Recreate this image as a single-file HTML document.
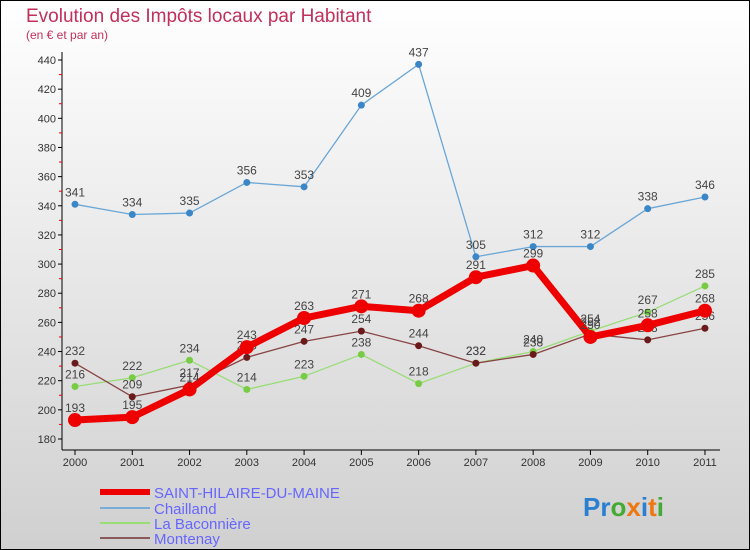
<!DOCTYPE html>
<html><head><meta charset="utf-8"><style>
body{margin:0;width:750px;height:550px;overflow:hidden}
svg{display:block;font-family:"Liberation Sans",sans-serif}
</style></head><body>
<svg width="750" height="550">
<defs><linearGradient id="bg" x1="0" y1="0" x2="0" y2="1"><stop offset="0" stop-color="#ffffff"/><stop offset="1" stop-color="#d0d0d0"/></linearGradient></defs>
<rect x="0.5" y="0.5" width="749" height="549" fill="url(#bg)" stroke="#000"/>
<text x="26" y="22" font-size="19" fill="#c0305a">Evolution des Impôts locaux par Habitant</text>
<text x="26" y="39" font-size="12" fill="#c0305a">(en € et par an)</text>
<g id="axes"></g><g id="series"></g>
<g>
<line x1="100" y1="492" x2="150" y2="492" stroke="#e00" stroke-width="6"/>
<text x="154" y="498" font-size="15" fill="#6666ff">SAINT-HILAIRE-DU-MAINE</text>
<line x1="100" y1="508" x2="150" y2="508" stroke="#7aaed6" stroke-width="2"/>
<text x="154" y="514" font-size="15" fill="#6666ff">Chailland</text>
<line x1="100" y1="523" x2="150" y2="523" stroke="#99dd77" stroke-width="2"/>
<text x="154" y="529" font-size="15" fill="#6666ff">La Baconnière</text>
<line x1="100" y1="538" x2="150" y2="538" stroke="#8a5a5a" stroke-width="2"/>
<text x="154" y="544" font-size="15" fill="#6666ff">Montenay</text>
</g>
<text x="583" y="516" font-size="26" font-weight="bold"><tspan fill="#2a7fd0">Pr</tspan><tspan fill="#44aa33">o</tspan><tspan fill="#ee7711">x</tspan><tspan fill="#2a7fd0">i</tspan><tspan fill="#ee7711">t</tspan><tspan fill="#44aa33">i</tspan></text>
</svg>
<script>
const years=["2000","2001","2002","2003","2004","2005","2006","2007","2008","2009","2010","2011"];
const yTicks=[180,200,220,240,260,280,300,320,340,360,380,400,420,440];
const saintHilaire=[193,195,214,243,263,271,268,291,299,250,258,268];
const chailland=[341,334,335,356,353,409,437,305,312,312,338,346];
const baconniere=[216,222,234,214,223,238,218,232,240,254,267,285];
const montenay=[232,209,217,236,247,254,244,232,238,252,248,256];
const NS="http://www.w3.org/2000/svg";
const X=i=>75+i*57.27, Y=v=>439-(v-180)*1.4577;
function mk(t,a,p){const e=document.createElementNS(NS,t);for(const k in a)e.setAttribute(k,a[k]);p.appendChild(e);return e;}
const ax=document.getElementById('axes');
mk('line',{x1:62,y1:52,x2:62,y2:450,stroke:'#000'},ax);
mk('line',{x1:62,y1:450,x2:720,y2:450,stroke:'#000'},ax);
yTicks.forEach(v=>{
  mk('line',{x1:58,y1:Y(v),x2:62,y2:Y(v),stroke:'#000'},ax);
  if(v<440) mk('line',{x1:59,y1:Y(v+10),x2:62,y2:Y(v+10),stroke:'#e00'},ax);
  const t=mk('text',{x:56,y:Y(v)+4,'font-size':11,fill:'#333','text-anchor':'end'},ax);
  
  
  t.textContent=v;
});
years.forEach((y,i)=>{
  mk('line',{x1:X(i),y1:450,x2:X(i),y2:455,stroke:'#000'},ax);
  const t=mk('text',{x:X(i),y:466,'font-size':11,fill:'#333','text-anchor':'middle'},ax);
  
  
  t.textContent=y;
});
const sg=document.getElementById('series');
function draw(data,name,color,w,r,dot){
  const g=mk('g',{},sg);
  
  
  mk('polyline',{points:data.map((v,i)=>X(i)+','+Y(v)).join(' '),fill:'none',stroke:color,'stroke-width':w,'stroke-linejoin':'round'},g);
  data.forEach((v,i)=>{
    const c=mk('circle',{cx:X(i),cy:Y(v),r:r,fill:dot},g);
    
    
    const t=mk('text',{x:X(i),y:Y(v)-8,'font-size':12,fill:'#444','text-anchor':'middle'},g);
    
    
    t.textContent=v;
  });
}
draw(chailland,'chailland-series','#6aa6d6',1.3,3.5,'#3a86c6');
draw(baconniere,'la-baconniere-series','#99dd77',1.3,3.5,'#77cc44');
draw(montenay,'montenay-series','#884444',1.3,3.5,'#6a1a1a');
draw(saintHilaire,'saint-hilaire-series','#ee0000',7,7,'#ee0000');
</script>
</body></html>
